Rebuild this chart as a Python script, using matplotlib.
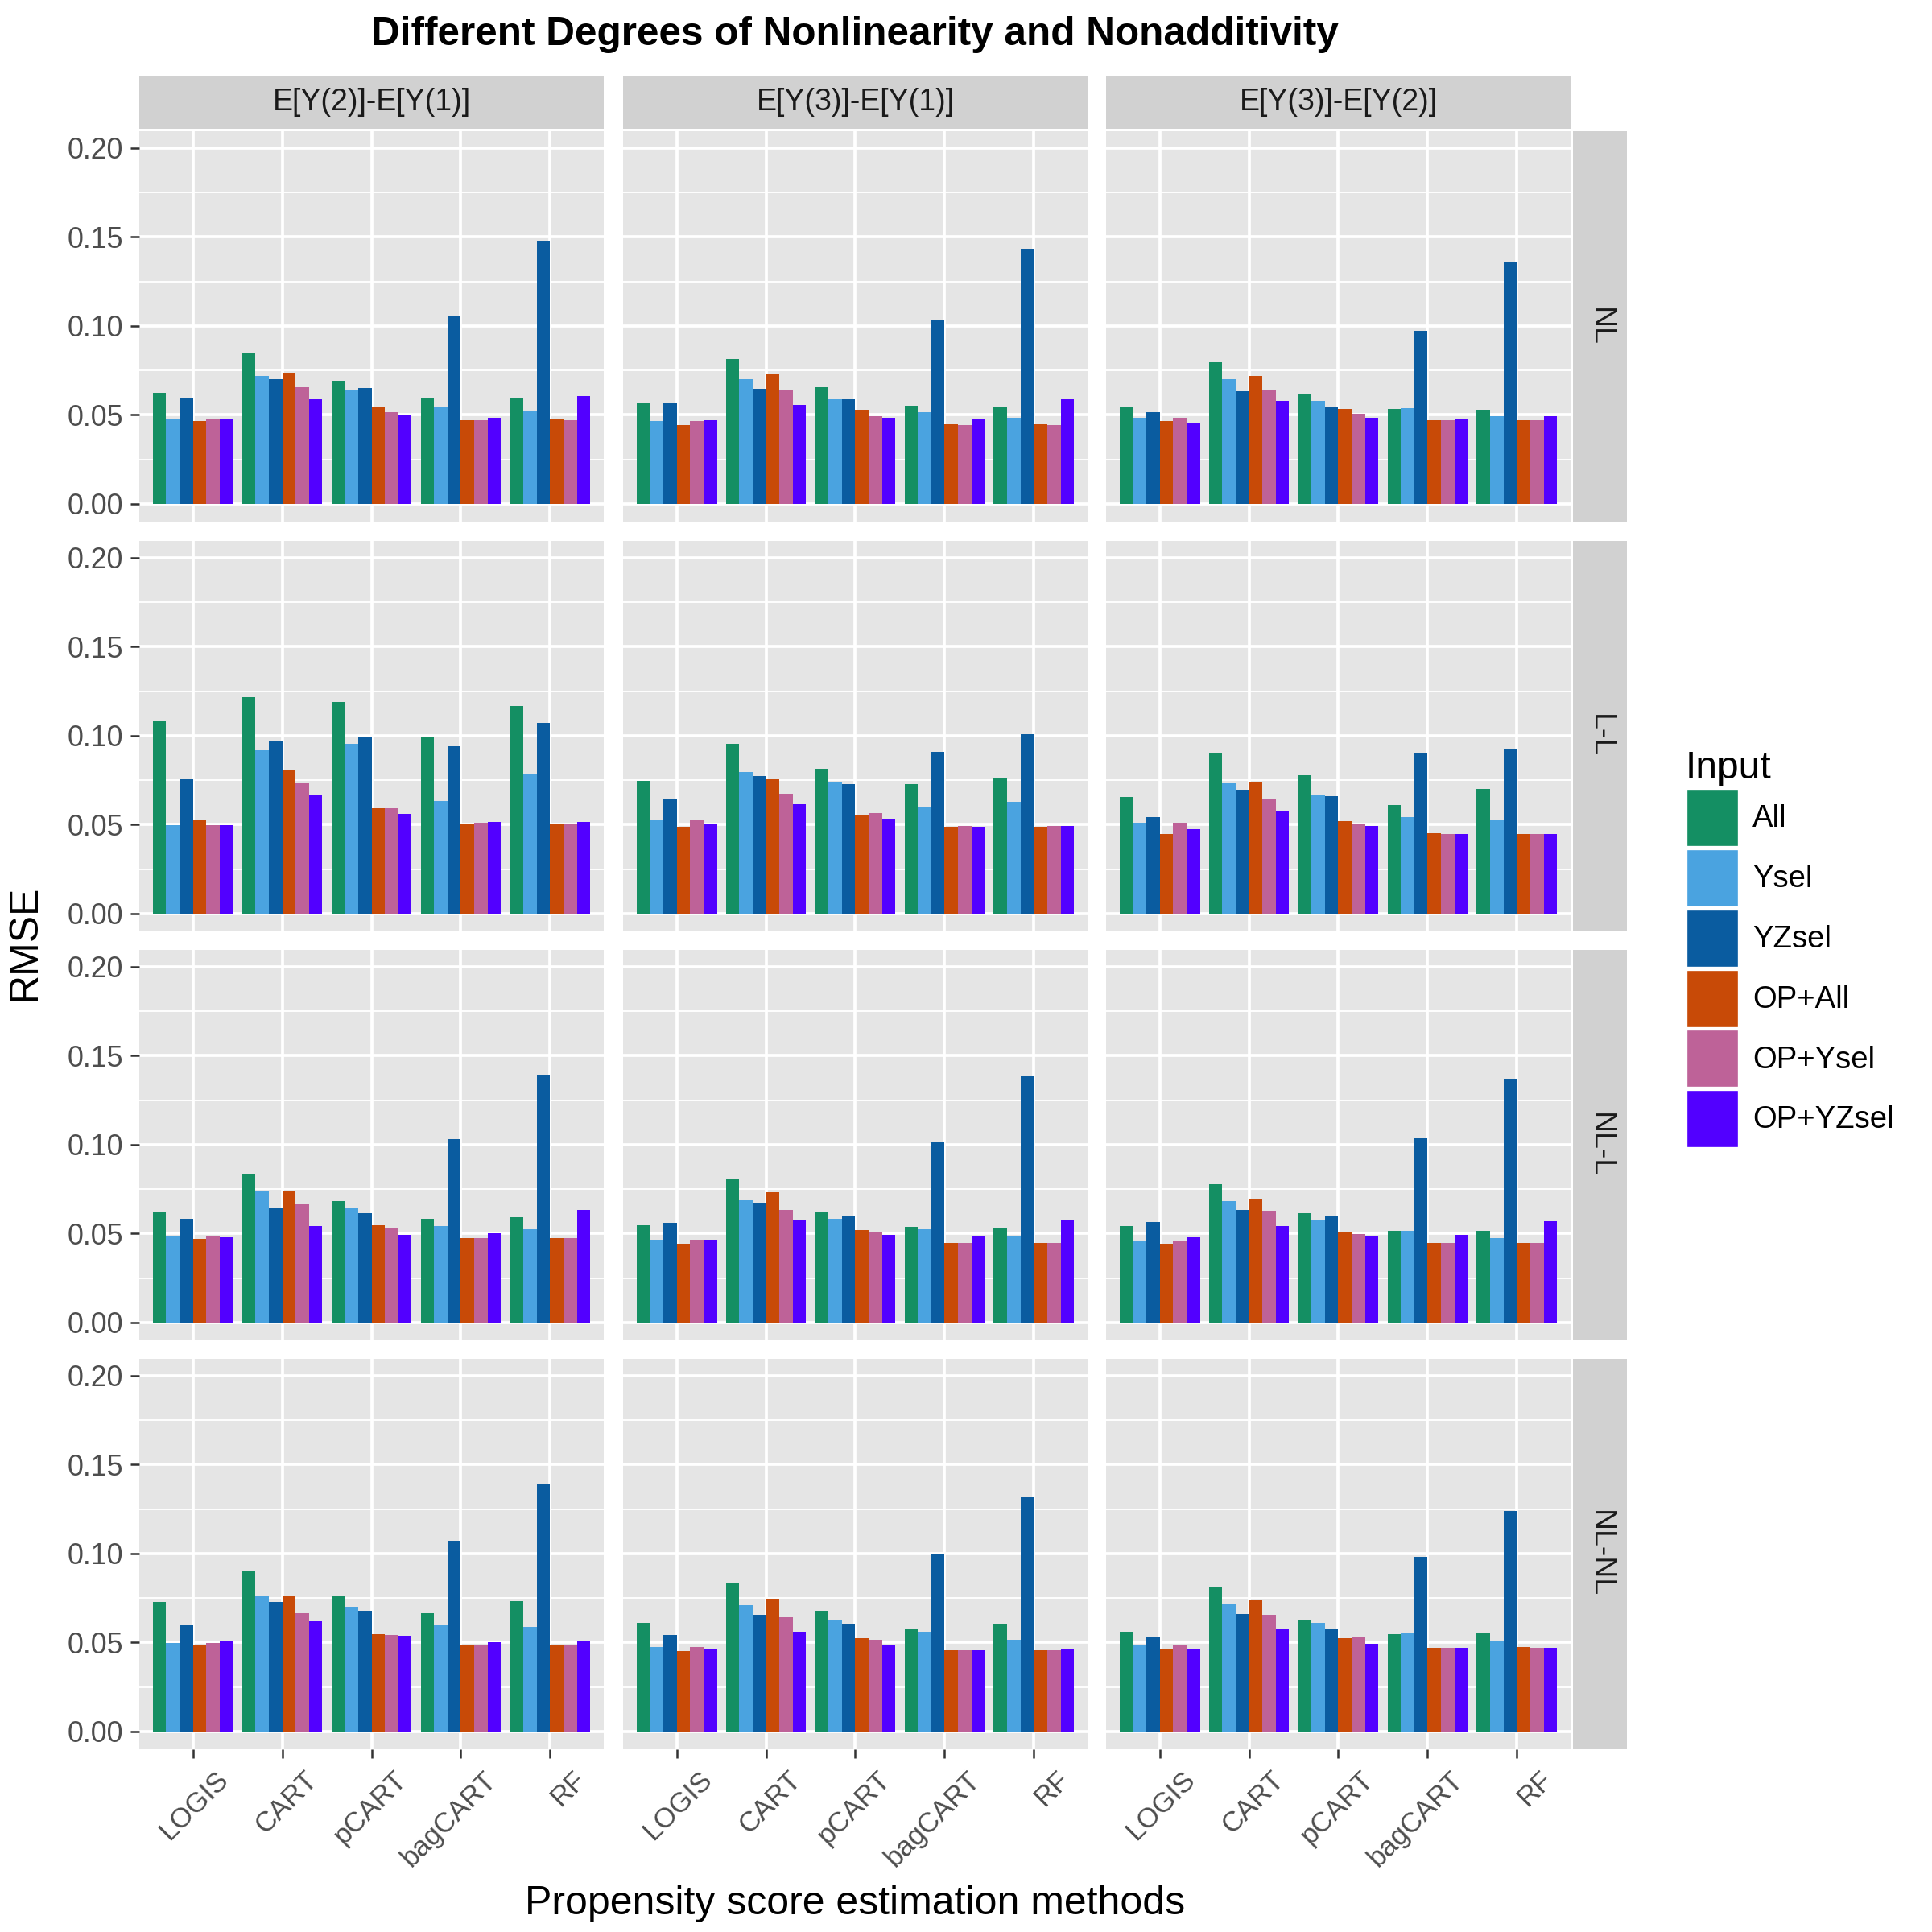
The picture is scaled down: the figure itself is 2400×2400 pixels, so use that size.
import numpy as np
import matplotlib
matplotlib.use("Agg")
import matplotlib.pyplot as plt
import matplotlib.transforms as mtransforms
from matplotlib.patches import Patch

plt.rcParams["font.family"] = ["Liberation Sans", "DejaVu Sans"]

methods = ["LOGIS", "CART", "pCART", "bagCART", "RF"]
inputs = ["All", "Ysel", "YZsel", "OP+All", "OP+Ysel", "OP+YZsel"]
colors = ["#148F63", "#4AA3E0", "#0A5CA0", "#C84A07", "#BE6298", "#5200FF"]
contrasts = ["E[Y(2)]-E[Y(1)]", "E[Y(3)]-E[Y(1)]", "E[Y(3)]-E[Y(2)]"]
scenarios = ["NL", "L-L", "NL-L", "NL-NL"]

# RMSE per panel: rows = methods, columns = inputs
nl_21 = [[0.0625, 0.0477, 0.0595, 0.0467, 0.0477, 0.0477],
         [0.0852, 0.0721, 0.0703, 0.0739, 0.0654, 0.0586],
         [0.0694, 0.0636, 0.0649, 0.0545, 0.0514, 0.0500],
         [0.0599, 0.0541, 0.1060, 0.0468, 0.0468, 0.0486],
         [0.0599, 0.0523, 0.1480, 0.0473, 0.0468, 0.0604]]
nl_31 = [[0.0568, 0.0464, 0.0568, 0.0441, 0.0464, 0.0468],
         [0.0816, 0.0703, 0.0645, 0.0730, 0.0640, 0.0554],
         [0.0654, 0.0590, 0.0590, 0.0527, 0.0495, 0.0482],
         [0.0550, 0.0514, 0.1033, 0.0446, 0.0441, 0.0473],
         [0.0545, 0.0486, 0.1435, 0.0446, 0.0441, 0.0590]]
nl_32 = [[0.0541, 0.0486, 0.0514, 0.0464, 0.0486, 0.0455],
         [0.0794, 0.0699, 0.0631, 0.0717, 0.0640, 0.0581],
         [0.0617, 0.0577, 0.0541, 0.0532, 0.0505, 0.0486],
         [0.0532, 0.0536, 0.0974, 0.0468, 0.0468, 0.0473],
         [0.0527, 0.0495, 0.1363, 0.0468, 0.0468, 0.0495]]
ll_21 = [[0.1082, 0.0497, 0.0755, 0.0524, 0.0497, 0.0497],
         [0.1218, 0.0918, 0.0973, 0.0805, 0.0733, 0.0665],
         [0.1190, 0.0955, 0.0991, 0.0592, 0.0592, 0.0560],
         [0.0995, 0.0633, 0.0941, 0.0506, 0.0511, 0.0515],
         [0.1168, 0.0787, 0.1073, 0.0506, 0.0506, 0.0515]]
ll_31 = [[0.0746, 0.0524, 0.0647, 0.0488, 0.0524, 0.0506],
         [0.0955, 0.0796, 0.0773, 0.0755, 0.0674, 0.0615],
         [0.0814, 0.0742, 0.0728, 0.0551, 0.0565, 0.0533],
         [0.0728, 0.0597, 0.0909, 0.0488, 0.0492, 0.0488],
         [0.0760, 0.0628, 0.1009, 0.0488, 0.0492, 0.0492]]
ll_32 = [[0.0656, 0.0511, 0.0542, 0.0447, 0.0511, 0.0474],
         [0.0900, 0.0733, 0.0696, 0.0742, 0.0647, 0.0579],
         [0.0778, 0.0665, 0.0660, 0.0520, 0.0506, 0.0492],
         [0.0610, 0.0542, 0.0900, 0.0452, 0.0447, 0.0447],
         [0.0701, 0.0524, 0.0923, 0.0447, 0.0447, 0.0447]]
nll_21 = [[0.0619, 0.0483, 0.0583, 0.0470, 0.0483, 0.0479],
          [0.0832, 0.0742, 0.0647, 0.0742, 0.0665, 0.0542],
          [0.0683, 0.0647, 0.0615, 0.0547, 0.0529, 0.0492],
          [0.0583, 0.0542, 0.1032, 0.0474, 0.0474, 0.0502],
          [0.0592, 0.0524, 0.1390, 0.0474, 0.0474, 0.0633]]
nll_31 = [[0.0547, 0.0465, 0.0560, 0.0443, 0.0465, 0.0465],
          [0.0805, 0.0687, 0.0674, 0.0733, 0.0633, 0.0579],
          [0.0619, 0.0583, 0.0597, 0.0520, 0.0506, 0.0492],
          [0.0538, 0.0524, 0.1014, 0.0447, 0.0447, 0.0488],
          [0.0533, 0.0488, 0.1385, 0.0447, 0.0447, 0.0574]]
nll_32 = [[0.0542, 0.0456, 0.0565, 0.0443, 0.0456, 0.0479],
          [0.0778, 0.0683, 0.0633, 0.0696, 0.0628, 0.0542],
          [0.0615, 0.0579, 0.0597, 0.0511, 0.0497, 0.0488],
          [0.0515, 0.0515, 0.1036, 0.0447, 0.0447, 0.0492],
          [0.0515, 0.0474, 0.1372, 0.0447, 0.0447, 0.0569]]
nlnl_21 = [[0.0727, 0.0495, 0.0595, 0.0482, 0.0495, 0.0505],
           [0.0903, 0.0758, 0.0727, 0.0758, 0.0663, 0.0618],
           [0.0763, 0.0699, 0.0677, 0.0545, 0.0541, 0.0536],
           [0.0663, 0.0595, 0.1071, 0.0486, 0.0482, 0.0500],
           [0.0731, 0.0586, 0.1393, 0.0486, 0.0482, 0.0505]]
nlnl_31 = [[0.0609, 0.0473, 0.0541, 0.0450, 0.0473, 0.0459],
           [0.0835, 0.0708, 0.0654, 0.0745, 0.0640, 0.0559],
           [0.0677, 0.0627, 0.0604, 0.0523, 0.0514, 0.0486],
           [0.0577, 0.0559, 0.0998, 0.0455, 0.0455, 0.0455],
           [0.0604, 0.0514, 0.1316, 0.0455, 0.0455, 0.0459]]
nlnl_32 = [[0.0559, 0.0486, 0.0532, 0.0464, 0.0486, 0.0464],
           [0.0813, 0.0713, 0.0659, 0.0736, 0.0654, 0.0573],
           [0.0627, 0.0609, 0.0573, 0.0523, 0.0527, 0.0491],
           [0.0545, 0.0554, 0.0980, 0.0468, 0.0468, 0.0468],
           [0.0550, 0.0509, 0.1239, 0.0473, 0.0468, 0.0468]]

panels = [[nl_21, nl_31, nl_32],
          [ll_21, ll_31, ll_32],
          [nll_21, nll_31, nll_32],
          [nlnl_21, nlnl_31, nlnl_32]]

fig = plt.figure(figsize=(8, 8), dpi=300)

col_left = [0.0721, 0.3225, 0.5725]
ax_w = 0.2404
row_bottom = [0.7300, 0.5179, 0.3063, 0.0946]
ax_h = 0.2021
strip_h = 0.0275
strip_w = 0.0280
panel_bg = "#E5E5E5"
strip_bg = "#D1D1D1"

x = np.arange(len(methods))
bw = 0.9 / len(inputs)
label_shift = mtransforms.ScaledTranslation(0.09, -0.005, fig.dpi_scale_trans)

for r, scen in enumerate(scenarios):
    for c, con in enumerate(contrasts):
        ax = fig.add_axes([col_left[c], row_bottom[r], ax_w, ax_h])
        ax.set_facecolor(panel_bg)
        vals = np.array(panels[r][c])
        for k in range(len(inputs)):
            ax.bar(x - 0.45 + bw * (k + 0.5), vals[:, k], width=bw,
                   color=colors[k], linewidth=0, zorder=3)
        ax.set_xlim(-0.6, len(methods) - 0.4)
        ax.set_ylim(-0.01, 0.2095)
        ax.set_yticks([0, 0.05, 0.10, 0.15, 0.20])
        ax.set_yticks([0.025, 0.075, 0.125, 0.175], minor=True)
        ax.set_xticks(x)
        ax.grid(which="major", color="white", linewidth=0.9, zorder=0)
        ax.grid(which="minor", axis="y", color="white", linewidth=0.45, zorder=0)
        for s in ax.spines.values():
            s.set_visible(False)
        ax.tick_params(which="minor", length=0)
        ax.tick_params(which="major", length=2.75, width=0.6, color="#333333",
                       labelsize=8.6, labelcolor="#4D4D4D", pad=2)
        if c == 0:
            ax.set_yticklabels(["0.00", "0.05", "0.10", "0.15", "0.20"])
        else:
            ax.tick_params(axis="y", length=0, labelleft=False)
        if r == len(scenarios) - 1:
            ax.set_xticklabels(methods, rotation=45, ha="right",
                               rotation_mode="anchor", fontsize=8.3)
            for lab in ax.get_xticklabels():
                lab.set_transform(lab.get_transform() + label_shift)
        else:
            ax.tick_params(axis="x", length=0, labelbottom=False)

        if r == 0:
            sax = fig.add_axes([col_left[c], row_bottom[r] + ax_h + 0.0012,
                                ax_w, strip_h])
            sax.set_facecolor(strip_bg)
            sax.set_xticks([])
            sax.set_yticks([])
            for s in sax.spines.values():
                s.set_visible(False)
            sax.text(0.5, 0.5, con, ha="center", va="center", fontsize=9,
                     color="#1A1A1A", transform=sax.transAxes)
        if c == len(contrasts) - 1:
            sax = fig.add_axes([col_left[c] + ax_w + 0.0012, row_bottom[r],
                                strip_w, ax_h])
            sax.set_facecolor(strip_bg)
            sax.set_xticks([])
            sax.set_yticks([])
            for s in sax.spines.values():
                s.set_visible(False)
            sax.text(0.5, 0.5, scen, ha="center", va="center", fontsize=9,
                     color="#1A1A1A", rotation=-90, transform=sax.transAxes)

fig.text(0.4426, 0.982, "Different Degrees of Nonlinearity and Nonadditivity",
         ha="center", va="center", fontsize=11.9, fontweight="bold")
fig.text(0.013, 0.512, "RMSE", ha="center", va="center", rotation=90, fontsize=12)
fig.text(0.4426, 0.0146, "Propensity score estimation methods",
         ha="center", va="center", fontsize=12)

handles = [Patch(facecolor=col, edgecolor="white", linewidth=0.8) for col in colors]
leg = fig.legend(handles, inputs, title="Input", loc="upper left",
                 bbox_to_anchor=(0.866, 0.618), frameon=False, fontsize=9.2,
                 title_fontsize=11.5, handlelength=1.72, handleheight=2.55,
                 labelspacing=0.05, handletextpad=0.45, borderaxespad=0)
leg._legend_box.align = "left"

fig.savefig("out.png", dpi=300)
